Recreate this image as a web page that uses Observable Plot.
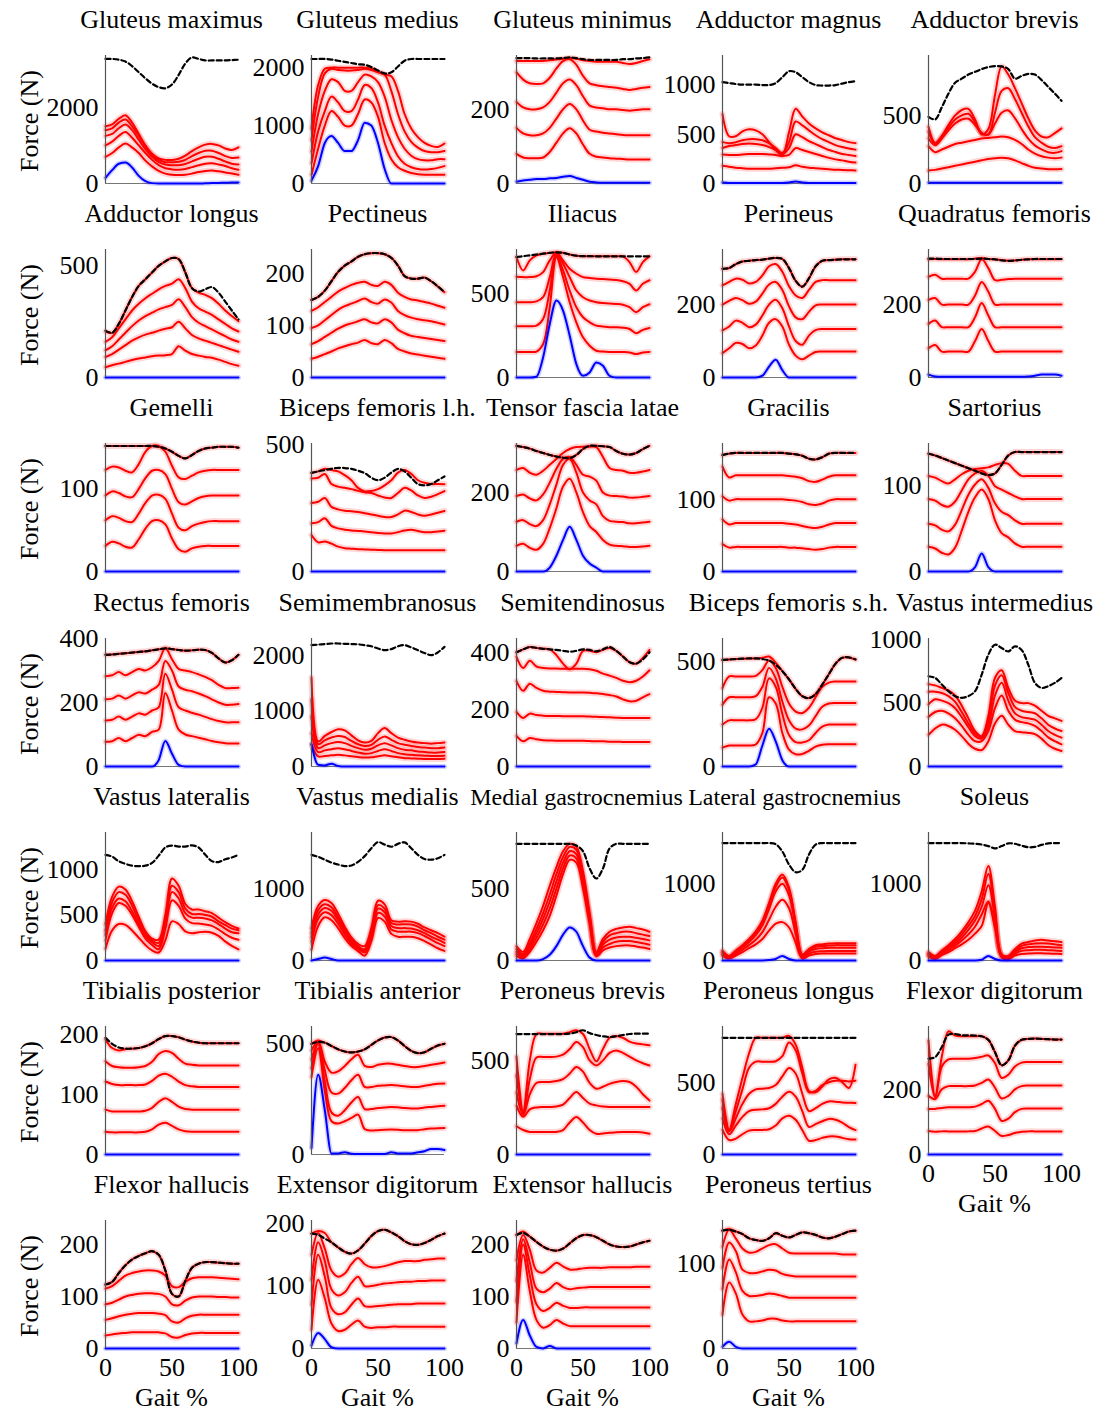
<!DOCTYPE html>
<html><head><meta charset="utf-8">
<script src="https://cdn.jsdelivr.net/npm/d3@7"></script>
<script src="https://cdn.jsdelivr.net/npm/@observablehq/plot@0.6"></script>
<style>
body{margin:0;background:#fff;}
#fig{position:relative;width:1099px;height:1414px;font-family:"Liberation Serif","Times New Roman",serif;color:#000;overflow:hidden;}
.t{position:absolute;white-space:nowrap;font-size:26px;line-height:30px;transform:translateX(-50%);}
.yl{position:absolute;white-space:nowrap;font-size:26px;line-height:30px;transform:translate(-50%,-50%) rotate(-90deg);}
#fig svg{position:absolute;overflow:visible;}
</style></head><body><div id="fig"></div>
<script>
// gait percentage sample points
const gait = [0,5,10,15,20,25,30,35,40,45,50,55,60,65,70,75,80,85,90,95,100];
const names = ["Gluteus maximus","Gluteus medius","Gluteus minimus","Adductor magnus","Adductor brevis",
"Adductor longus","Pectineus","Iliacus","Perineus","Quadratus femoris",
"Gemelli","Biceps femoris l.h.","Tensor fascia latae","Gracilis","Sartorius",
"Rectus femoris","Semimembranosus","Semitendinosus","Biceps femoris s.h.","Vastus intermedius",
"Vastus lateralis","Vastus medialis","Medial gastrocnemius","Lateral gastrocnemius","Soleus",
"Tibialis posterior","Tibialis anterior","Peroneus brevis","Peroneus longus","Flexor digitorum",
"Flexor hallucis","Extensor digitorum","Extensor hallucis","Peroneus tertius"];
const yTop = [3360,2210,345,1300,940, 573,246,765,351,351, 155,505,324,177,150, 400,2300,448,610,1010, 1404,1778,890,1667,1667, 214,578,680,885,393, 246,205,246,151];
const yTicks = [[0,2000],[0,1000,2000],[0,200],[0,500,1000],[0,500],
[0,500],[0,100,200],[0,500],[0,200],[0,200],
[0,100],[0,500],[0,200],[0,100],[0,100],
[0,200,400],[0,1000,2000],[0,200,400],[0,500],[0,500,1000],
[0,500,1000],[0,1000],[0,500],[0,1000],[0,1000],
[0,100,200],[0,500],[0,500],[0,500],[0,200],
[0,100,200],[0,100,200],[0,100,200],[0,100]];
const xTickLabels = [0,50,100];
const zero21 = [0,0,0,0,0,0,0,0,0,0,0,0,0,0,0,0,0,0,0,0,0];

// ---- Gluteus maximus
const GMAX_dash = [3270,3270,3250,3200,3080,2920,2760,2620,2530,2500,2600,2850,3150,3310,3270,3230,3230,3230,3230,3240,3250];
const GMAX_red = [
[700,800,950,1050,950,800,600,450,330,260,230,220,230,260,300,330,340,320,290,260,230],
[1000,1100,1250,1350,1200,1000,800,620,480,400,370,360,380,430,480,520,530,500,460,400,360],
[1250,1300,1450,1550,1400,1150,900,700,560,500,480,480,510,580,650,700,700,650,580,520,500],
[1400,1450,1600,1680,1500,1250,980,760,620,560,560,570,620,720,800,860,860,800,720,670,680],
[1500,1550,1700,1790,1600,1300,1000,780,660,620,620,650,730,850,950,1020,1040,1000,920,880,950]];
const GMAX_blue = [150,350,520,550,420,200,60,10,0,0,0,0,0,0,0,5,10,15,20,25,25];
// ---- Gluteus medius
const GMED_dash = [2150,2150,2150,2140,2120,2100,2080,2060,2050,2010,1950,1900,1920,2020,2120,2150,2150,2150,2150,2150,2150];
const GMED_red = [
[150,600,1000,1250,1150,1000,1000,1200,1450,1400,1150,700,420,280,220,180,160,150,150,150,150],
[350,900,1250,1500,1400,1250,1250,1450,1700,1650,1400,1000,700,470,340,280,250,240,250,270,300],
[550,1200,1600,1800,1750,1600,1600,1750,1880,1850,1750,1500,1100,800,600,480,420,400,400,420,420],
[750,1500,1900,1980,1960,1950,1950,1960,1980,1960,1920,1880,1600,1200,900,720,620,560,540,540,560],
[950,1700,1980,2000,2000,2000,2000,2000,2000,1980,1930,1880,1850,1600,1200,950,800,700,650,630,690]];
const GMED_blue = [50,300,700,820,700,560,560,750,1050,1000,700,250,0,0,0,0,0,0,0,0,0];
// ---- Gluteus minimus
const GMIN_dash = [338,338,338,337,337,337,337,338,340,338,335,333,333,333,333,333,335,335,337,338,340];
const GMIN_red = [
[80,70,68,68,70,85,110,135,149,135,105,80,72,70,68,67,66,65,65,65,65],
[150,135,130,130,135,150,175,200,214,200,170,145,140,137,135,133,131,130,130,130,130],
[220,205,200,200,205,220,245,270,280,265,235,210,205,203,200,200,198,196,198,200,200],
[300,280,270,268,270,285,310,330,335,320,290,270,265,262,260,258,255,252,255,258,260],
[330,330,330,330,330,332,334,336,338,336,332,330,328,328,328,328,325,322,325,330,335]];
const GMIN_blue = [5,8,10,12,12,14,15,18,20,15,10,5,3,2,2,2,2,2,2,2,2];
// ---- Adductor magnus
const AMAG_dash = [1030,1020,1010,1005,1005,1005,1000,1000,1020,1080,1140,1130,1080,1030,1000,995,995,1000,1015,1030,1040];
const AMAG_red = [
[180,170,160,155,150,150,150,150,155,160,165,185,170,160,155,150,145,140,138,135,131],
[295,290,290,295,300,300,300,295,290,280,290,360,340,320,300,280,260,245,235,222,213],
[360,380,390,400,405,400,390,370,340,300,360,500,470,430,400,370,340,320,300,290,279],
[420,410,420,440,450,450,440,410,360,310,420,630,590,540,490,450,420,390,370,355,344],
[705,480,480,530,550,540,500,420,340,290,520,760,680,610,560,520,490,460,440,420,410]];
const AMAG_blue = [10,5,5,5,5,5,5,5,5,5,10,20,10,5,5,5,5,5,5,5,5];
// ---- Adductor brevis
const ABRE_dash = [490,470,560,660,740,770,800,820,840,855,862,860,840,770,790,805,800,760,710,660,607];
const ABRE_red = [
[95,100,110,120,130,140,150,160,170,180,185,190,185,170,150,130,115,110,105,105,107],
[274,230,250,270,290,300,310,320,330,335,340,345,340,320,290,250,220,200,190,185,190],
[330,280,330,390,440,470,476,430,370,360,440,520,536,480,400,330,280,250,230,225,238],
[380,290,340,410,470,500,512,450,370,360,520,680,700,620,520,420,340,300,270,260,274],
[417,300,350,430,500,540,548,470,360,400,650,860,800,700,590,480,390,345,340,370,405]];
const ABRE_blue = [5,5,5,5,5,5,5,5,5,5,5,5,5,5,5,5,5,5,5,5,5];
// ---- Adductor longus
const ALON_dash = [210,200,240,300,360,410,440,470,500,520,535,530,470,400,385,395,405,380,340,300,260];
const ALON_red = [
[46,55,62,70,78,85,90,95,98,100,105,140,120,105,98,92,88,80,70,60,53],
[92,105,125,145,165,180,192,200,210,218,225,250,220,190,175,165,155,145,135,125,115],
[122,140,170,200,230,255,275,290,305,315,325,350,315,270,245,230,215,200,185,170,160],
[160,180,220,260,300,330,355,375,395,410,420,440,400,340,310,295,280,260,240,220,206],
[206,200,240,300,360,410,440,470,500,520,535,530,470,400,380,370,355,330,300,275,252]];
// ---- Pectineus
const PECT_dash = [149,155,167,185,203,215,223,232,237,239,239,237,230,215,195,190,190,192,185,175,164];
const PECT_red = [
[36,40,45,50,56,60,64,67,72,66,64,72,66,55,50,46,44,42,40,38,36],
[64,70,78,86,94,100,104,108,112,106,104,112,106,92,85,80,78,76,74,72,70],
[95,100,110,120,130,137,142,147,152,145,142,150,144,128,120,115,112,110,108,105,102],
[128,135,145,155,165,172,178,182,184,178,176,184,178,163,155,150,148,145,142,138,134],
[149,155,167,185,203,215,223,232,237,239,239,237,230,215,195,190,190,192,185,175,164]];
// ---- Iliacus
const ILIA_dash = [720,725,730,735,740,745,748,745,735,728,725,725,724,724,724,724,724,724,724,724,724];
const ILIA_red = [
[153,153,153,155,200,420,720,600,450,330,240,190,160,155,153,153,152,150,140,150,153],
[306,306,306,310,350,520,730,640,520,420,360,330,310,305,300,300,298,290,265,285,296],
[449,450,450,455,480,600,740,680,600,520,480,460,450,445,442,440,435,420,390,420,438],
[602,600,600,605,630,700,745,700,650,620,600,595,590,588,585,583,575,560,520,560,581],
[720,640,700,730,740,745,748,745,735,728,725,725,724,724,724,724,724,690,630,690,724]];
const ILIA_blue = [0,0,0,5,120,320,460,400,250,80,10,30,90,70,10,0,0,0,0,0,0];
// ---- Perineus
const PERI_dash = [298,300,311,318,320,322,323,326,328,325,300,265,249,272,305,320,322,323,324,324,324];
const PERI_red = [
[67,80,95,92,80,88,115,150,160,140,90,60,50,60,70,71,71,71,71,71,71],
[129,140,156,150,138,145,170,200,213,190,140,100,90,115,130,133,133,133,133,133,133],
[200,210,218,212,202,208,230,255,262,240,195,165,160,180,198,200,200,200,200,200,200],
[253,262,271,268,258,262,280,305,311,290,250,225,218,240,262,267,267,267,267,267,267],
[298,300,311,318,320,322,323,326,328,325,300,265,249,272,305,320,322,323,324,324,324]];
const PERI_blue = [0,0,0,0,0,0,5,30,49,20,0,0,0,0,0,0,0,0,0,0,0];
// ---- Quadratus femoris
const QFEM_dash = [326,326,325,325,325,325,325,325,326,325,324,321,320,321,323,324,325,325,325,325,325];
const QFEM_red = [
[80,89,71,71,71,71,71,100,133,100,71,71,71,71,71,71,71,71,71,71,71],
[147,156,138,138,138,138,138,165,204,170,138,138,138,138,138,138,138,138,138,138,138],
[213,218,200,200,200,200,200,225,262,235,200,200,200,200,200,200,200,200,200,200,200],
[276,282,271,271,271,271,271,290,324,300,267,268,270,271,271,271,271,271,271,271,271],
[324,325,324,324,324,324,324,326,328,325,324,322,320,321,323,324,324,324,324,324,324]];
const QFEM_blue = [8,3,2,2,2,2,2,2,2,2,2,2,2,2,2,3,5,8,8,8,5];
// ---- Gemelli
const GEME_dash = [152,152,152,152,152,152,152,152,151,149,145,140,137,141,146,149,150,151,151,151,150];
const GEME_red = [
[31,36,34,30,29,39,52,61,62,57,40,27,24,28,30,31,31,31,31,31,31],
[62,67,65,61,60,70,83,92,93,88,70,53,50,55,58,60,61,61,61,61,61],
[92,97,95,91,90,100,113,122,123,118,100,84,81,85,89,91,92,92,92,92,92],
[123,127,126,122,120,130,145,152,152,145,128,114,112,116,120,122,123,123,123,123,123],
[152,152,152,152,152,152,152,152,151,149,145,140,137,141,146,149,150,151,151,151,150]];
// ---- Biceps femoris l.h.
const BFLH_dash = [389,395,400,405,409,408,405,398,388,370,360,370,390,405,395,370,345,340,345,360,375];
const BFLH_red = [
[144,115,118,110,98,92,90,88,87,86,85,84,84,84,84,84,84,84,84,84,84],
[190,195,210,180,170,165,162,160,158,155,152,150,150,155,162,165,160,155,155,158,161],
[270,275,290,255,245,240,238,235,230,225,220,215,215,225,240,235,225,220,225,232,239],
[367,370,385,345,335,330,325,318,313,310,300,292,290,310,330,320,300,290,295,305,317],
[389,395,405,400,395,380,360,330,316,318,325,340,360,390,400,385,360,350,345,345,344]];
// ---- Tensor fascia latae
const TFL_dash = [318,315,311,305,300,295,291,288,287,295,310,318,318,317,315,305,298,296,300,310,318];
const TFL_red = [
[65,70,60,55,70,110,160,215,235,200,150,115,100,80,68,65,64,62,62,63,65],
[126,130,120,115,130,170,220,270,285,250,200,180,170,140,128,126,125,122,122,124,126],
[191,195,185,180,195,225,260,285,290,270,245,240,230,200,192,191,190,187,187,189,191],
[257,262,250,245,255,270,285,300,310,315,316,316,315,290,262,257,255,250,250,253,257],
[318,315,311,305,300,295,291,288,287,295,310,318,318,317,315,305,298,296,300,310,318]];
const TFL_blue = [0,0,0,0,0,10,40,80,113,80,40,20,10,0,0,0,0,0,0,0,0];
// ---- Gracilis
const GRAC_dash = [161,163,164,164,164,164,164,164,164,164,163,162,160,156,155,158,163,164,164,164,164];
const GRAC_red = [
[38,33,34,34,34,34,34,34,34,34,33,33,32,31,30,31,33,34,34,34,34],
[72,65,67,67,67,67,67,67,67,67,66,65,63,61,60,62,65,67,67,67,67],
[104,98,100,100,100,100,100,100,100,100,99,98,96,93,92,94,98,100,100,100,100],
[145,130,133,133,133,133,133,133,133,133,132,131,129,125,124,127,131,133,133,133,133],
[161,163,164,164,164,164,164,164,164,164,163,162,160,156,155,158,163,164,164,164,164]];
// ---- Sartorius
const SART_dash = [138,136,133,130,127,124,121,118,115,113,115,125,136,140,140,140,140,140,140,140,140];
const SART_red = [
[29,27,22,20,28,48,70,87,96,85,60,45,40,33,29,29,29,29,29,29,29],
[56,54,49,47,55,72,90,102,108,98,80,70,66,60,56,56,56,56,56,56,56],
[85,83,78,76,82,95,108,115,118,112,100,96,92,88,85,85,85,85,85,85,85],
[112,110,106,103,108,114,118,120,121,122,125,127,126,118,112,112,112,112,112,112,112],
[138,136,133,130,127,124,121,118,115,113,115,125,136,140,140,140,140,140,140,140,140]];
const SART_blue = [0,0,0,0,0,0,0,5,21,5,0,0,0,0,0,0,0,0,0,0,0];
// ---- Rectus femoris
const RFEM_dash = [349,350,352,354,356,358,360,363,366,369,367,364,362,363,365,364,355,338,325,332,349];
const RFEM_red = [
[77,79,89,79,89,99,95,108,115,230,175,115,100,95,90,85,80,76,73,72,72],
[144,146,156,146,156,166,162,175,185,290,240,185,175,168,162,155,148,142,138,138,138],
[210,212,222,212,222,232,228,240,255,330,300,250,240,235,228,220,210,200,193,193,195],
[282,285,295,285,295,305,300,310,330,370,335,305,300,295,288,280,270,255,245,245,246],
[349,350,352,354,356,358,360,363,366,369,367,364,362,363,365,364,355,338,325,332,349]];
const RFEM_blue = [0,0,0,0,0,0,0,0,20,80,40,5,0,0,0,0,0,0,0,0,0];
// ---- Semimembranosus
const SMEM_dash = [2180,2190,2200,2210,2210,2205,2200,2195,2180,2160,2120,2090,2110,2160,2180,2140,2090,2040,2000,2050,2150];
const SMEM_red = [
[400,180,190,200,210,200,185,170,160,165,185,200,185,165,150,145,140,135,135,135,140],
[600,260,290,310,330,310,280,250,230,240,280,310,280,240,220,210,200,195,190,190,195],
[900,330,380,420,440,420,370,330,300,320,380,420,380,330,300,290,270,260,250,250,260],
[1200,400,470,520,550,530,460,400,370,390,480,540,480,420,390,370,350,340,330,330,340],
[1600,450,550,620,670,650,560,470,430,460,600,690,600,520,480,450,430,420,410,420,430]];
const SMEM_blue = [400,30,20,50,10,0,0,0,0,0,0,0,0,0,0,0,0,0,0,0,0];
// ---- Semitendinosus
const STEN_dash = [400,410,418,415,412,410,408,405,402,405,410,408,403,410,418,405,385,365,360,375,400];
const STEN_red = [
[107,88,100,95,92,91,90,90,90,90,90,89,88,88,87,87,86,86,86,86,86],
[191,170,185,180,178,177,177,176,176,176,176,175,174,173,172,171,170,170,170,170,170],
[299,265,290,275,265,262,261,260,259,259,259,258,256,254,250,245,235,228,230,242,253],
[384,345,370,350,345,343,343,342,342,342,342,340,335,325,318,310,300,295,300,315,337],
[400,410,418,415,412,410,390,360,340,360,405,405,400,408,415,405,385,365,360,380,408]];
// ---- Biceps femoris s.h.
const BFSH_dash = [508,510,512,514,515,515,512,505,485,455,415,370,335,326,345,390,440,490,518,520,510];
const BFSH_red = [
[90,100,100,100,100,105,160,330,300,160,80,58,60,75,95,104,106,106,106,106,106],
[200,220,220,220,220,225,280,420,380,250,150,116,114,125,160,190,200,200,200,200,200],
[295,330,330,330,330,335,380,470,420,310,220,180,177,195,240,285,300,303,303,303,303],
[374,429,429,429,429,432,460,505,470,380,300,262,255,280,330,380,400,405,405,405,405],
[508,510,512,514,515,515,518,524,495,455,415,370,335,326,345,390,440,490,518,520,510]];
const BFSH_blue = [0,0,0,0,0,10,100,180,120,30,0,0,0,0,0,0,0,0,0,0,0];
// ---- Vastus intermedius
const VINT_dash = [712,699,647,594,555,542,555,594,725,882,961,935,908,948,920,804,660,620,634,660,699];
const VINT_red = [
[250,300,330,320,290,240,180,140,130,200,340,400,330,280,270,265,255,220,170,140,123],
[390,430,440,420,380,320,250,200,200,280,460,560,440,370,350,340,320,280,230,200,175],
[490,530,520,500,460,390,310,240,220,320,560,660,520,420,390,380,370,330,280,250,228],
[590,590,580,555,510,430,340,260,230,360,640,720,580,470,440,430,420,380,330,300,280],
[650,640,620,600,560,480,380,280,240,400,700,760,620,520,500,500,480,440,400,380,360]];
// ---- Vastus lateralis
const VLAT_dash = [1158,1140,1088,1060,1040,1035,1040,1070,1150,1240,1260,1250,1250,1262,1240,1160,1090,1080,1110,1130,1158];
const VLAT_red = [
[130,330,400,390,330,250,170,110,88,220,430,400,320,300,310,315,305,270,210,160,123],
[220,520,630,600,500,370,240,170,123,350,660,600,460,410,405,395,380,340,290,250,228],
[280,580,680,650,540,400,270,200,158,400,750,680,520,470,470,460,440,400,350,310,298],
[330,640,750,720,600,440,300,220,193,450,820,750,570,510,510,500,480,430,390,350,333],
[400,700,810,780,650,480,320,240,228,500,900,820,620,560,560,540,520,470,420,380,351]];
// ---- Vastus medialis
const VMED_dash = [1467,1440,1400,1360,1333,1311,1320,1370,1450,1560,1644,1610,1580,1620,1640,1560,1467,1410,1400,1420,1467];
const VMED_red = [
[150,480,600,560,450,310,200,130,67,270,590,540,370,330,330,330,310,270,220,170,133],
[260,580,670,630,510,360,230,160,111,320,660,610,430,400,400,400,380,340,290,240,200],
[320,640,730,690,560,400,260,180,133,360,720,670,480,450,450,445,420,380,330,290,244],
[380,700,780,740,600,430,290,200,156,400,770,720,520,500,505,500,470,420,380,330,289],
[450,760,840,800,650,470,320,230,200,450,830,780,560,540,545,540,510,460,420,380,333]];
const VMED_blue = [0,20,40,20,0,0,0,0,0,0,0,0,0,0,0,0,0,0,0,0,0];
// ---- Medial gastrocnemius
const MGAS_dash = [811,811,811,811,811,811,811,811,811,800,760,640,570,640,780,811,811,811,811,811,811];
const MGAS_red = [
[30,15,60,130,210,310,450,600,700,680,500,250,30,70,90,100,105,105,98,90,80],
[45,25,80,160,250,360,500,640,730,710,530,270,35,90,115,130,135,135,128,120,110],
[60,35,100,190,290,410,550,680,760,740,560,290,40,110,145,160,165,165,158,150,140],
[80,45,120,220,330,460,600,720,790,770,590,310,50,130,175,190,200,200,190,180,170],
[100,60,150,260,380,520,650,760,811,790,620,330,60,150,200,220,230,235,225,215,200]];
const MGAS_blue = [0,0,0,0,10,40,100,180,230,200,100,20,0,0,0,0,0,0,0,0,0];
// ---- Lateral gastrocnemius
const LGAS_dash = [1529,1529,1529,1529,1529,1529,1529,1529,1515,1420,1250,1150,1180,1380,1510,1529,1529,1529,1529,1529,1529];
const LGAS_red = [
[60,25,65,110,160,210,280,390,480,500,430,230,25,65,85,90,90,90,90,90,90],
[80,35,85,140,200,270,370,530,700,790,680,350,40,90,115,120,125,125,125,125,125],
[100,45,105,170,240,330,460,670,900,1000,850,440,55,115,150,160,165,165,165,165,165],
[115,55,120,190,265,360,500,720,960,1080,920,480,70,135,180,190,195,200,200,200,200],
[130,60,130,200,280,380,520,750,1000,1120,950,500,80,150,200,210,220,225,225,225,225]];
const LGAS_blue = [0,0,0,0,0,0,0,5,20,60,20,0,0,0,0,0,0,0,0,0,0];
// ---- Soleus
const SOLE_dash = [1529,1529,1529,1529,1529,1529,1525,1520,1510,1490,1460,1490,1525,1520,1495,1475,1480,1505,1525,1529,1529];
const SOLE_red = [
[50,20,70,110,160,210,270,350,450,750,420,40,20,65,85,90,95,95,90,88,85],
[65,30,85,135,190,260,340,440,600,770,450,50,30,90,125,135,140,140,135,130,125],
[80,40,100,160,220,300,400,520,700,980,550,60,40,110,160,175,180,180,175,170,165],
[95,50,115,180,250,340,450,580,800,1125,630,70,50,130,190,210,220,225,220,210,200],
[110,60,130,200,280,380,500,650,900,1230,700,80,60,150,220,240,260,270,260,250,240]];
const SOLE_blue = [0,0,0,0,0,0,0,0,10,60,20,0,0,0,0,0,0,0,0,0,0];
// ---- Tibialis posterior
const TPOS_dash = [195,185,179,177,177,178,181,186,193,198,198,196,192,189,187,186,186,186,186,186,186];
const TPOS_red = [
[38,37,37,37,37,37,38,42,50,53,48,42,39,38,38,38,38,38,38,38,38],
[75,72,72,72,72,72,73,78,88,94,88,80,76,75,75,75,75,75,75,75,75],
[122,118,116,116,116,116,117,123,132,135,130,122,116,114,113,113,113,113,113,113,113],
[156,148,146,145,145,146,148,155,168,173,170,160,152,150,149,149,149,149,149,149,149],
[192,178,174,176,177,178,181,186,193,198,198,196,192,189,187,186,186,186,186,186,186]];
// ---- Tibialis anterior
const TANT_dash = [500,508,505,490,475,465,461,465,475,495,515,528,530,515,490,468,458,462,478,492,500];
const TANT_red = [
[350,480,290,150,140,150,165,180,115,108,110,112,113,112,110,110,110,114,117,119,120],
[390,500,330,190,175,200,235,260,205,205,210,212,215,213,210,208,208,212,215,218,220],
[430,505,380,280,275,300,335,360,305,305,310,312,314,312,308,305,305,310,315,320,321],
[470,510,420,370,375,400,430,450,400,395,405,410,410,405,400,395,395,400,405,410,415],
[500,515,505,490,475,465,461,465,475,495,515,528,530,515,490,468,458,462,478,492,500]];
const TANT_blue = [30,360,200,5,5,10,3,2,2,2,2,2,10,5,5,5,10,15,25,25,20];
// ---- Peroneus brevis
const PBRE_dash = [640,640,640,640,640,640,640,640,642,650,660,645,635,628,624,628,635,640,642,642,642];
const PBRE_red = [
[150,130,120,119,119,119,120,130,170,199,170,130,110,112,115,118,119,119,119,117,110],
[260,200,240,250,252,252,255,265,300,332,300,270,261,255,252,252,252,252,252,252,252],
[330,210,320,380,385,385,390,400,430,465,440,380,349,360,375,385,390,385,360,320,287],
[420,220,400,515,518,518,520,530,560,598,570,500,473,500,540,553,540,520,500,485,473],
[520,230,500,640,642,642,642,642,650,660,640,560,495,560,620,630,620,600,590,585,580]];
// ---- Peroneus longus
const PLON_dash = [807,807,807,807,807,807,807,807,807,807,807,807,807,807,807,807,807,807,807,807,807];
const PLON_red = [
[170,100,110,140,165,169,170,175,200,250,268,240,170,95,100,115,125,125,115,105,103],
[250,140,200,260,300,310,312,320,350,400,433,400,300,190,210,230,246,240,220,190,169],
[320,160,250,350,420,450,455,460,480,540,598,560,420,300,320,350,367,365,360,358,356],
[380,165,300,450,600,642,642,642,645,680,774,720,560,430,440,480,500,510,510,505,510],
[420,170,350,530,700,807,807,807,807,807,820,760,600,440,430,470,520,530,500,460,620]];
// ---- Flexor digitorum
const FDIG_dash = [294,299,330,368,370,366,366,365,363,352,314,274,289,334,352,355,356,355,354,353,353];
const FDIG_red = [
[72,70,71,71,71,71,71,72,80,86,72,57,60,66,70,71,71,71,71,71,71],
[140,140,143,145,145,145,145,147,155,165,140,103,110,130,140,141,141,141,141,141,141],
[180,170,200,210,210,210,210,212,220,230,205,172,180,200,210,212,212,212,212,212,212],
[279,175,270,292,294,294,294,296,300,304,280,235,245,270,282,284,284,284,284,284,284],
[350,180,300,378,365,363,363,363,363,352,314,274,289,334,352,355,356,355,354,353,353]];
// ---- Flexor hallucis
const FHAL_dash = [123,128,145,160,171,178,183,187,180,150,105,100,130,155,163,166,166,165,164,163,163];
const FHAL_red = [
[25,27,29,30,31,31,31,31,31,29,22,21,26,29,30,30,30,30,30,30,30],
[55,58,62,65,67,68,68,68,67,64,52,50,58,63,65,65,65,65,65,65,65],
[85,88,94,100,103,105,106,106,105,100,85,83,92,98,100,100,100,99,99,98,98],
[115,120,130,140,145,148,150,150,148,140,120,118,128,135,137,137,137,136,135,134,133],
[123,128,145,160,171,178,183,187,180,150,105,100,130,155,163,166,166,165,164,163,163]];
// ---- Extensor digitorum
const EDIG_dash = [184,182,176,170,162,155,152,157,168,180,188,190,186,180,172,167,166,169,174,180,184];
const EDIG_red = [
[30,110,80,40,28,30,38,45,35,33,34,34,35,35,35,35,35,35,35,35,35],
[70,150,115,65,55,58,70,80,68,67,68,69,70,71,71,71,72,72,72,72,72],
[110,170,140,95,85,90,105,115,100,100,102,104,105,106,107,107,108,108,109,109,109],
[150,185,160,125,115,120,135,145,135,130,130,132,135,138,140,140,140,142,143,144,144],
[184,188,185,170,162,155,152,157,168,180,188,190,186,180,172,167,166,169,174,180,184]];
const EDIG_blue = [5,25,15,2,0,0,0,0,0,0,0,0,0,0,0,0,0,0,0,0,0];
// ---- Extensor hallucis
const EHAL_dash = [218,222,215,205,196,190,188,192,202,212,218,218,214,207,200,196,195,196,200,204,207];
const EHAL_red = [
[50,180,110,55,40,45,55,48,43,43,43,43,43,43,43,43,43,43,43,43,43],
[90,200,140,85,72,78,88,82,78,78,79,79,79,79,79,79,79,79,79,79,79],
[130,210,165,115,108,115,126,118,114,116,117,118,118,118,118,118,118,118,118,118,118],
[170,218,190,150,146,155,165,158,152,152,154,155,155,155,156,156,156,156,157,157,157],
[218,225,215,205,196,190,188,192,202,212,218,218,214,207,200,196,195,196,200,204,207]];
const EHAL_blue = [10,55,25,3,0,5,0,0,0,0,0,0,0,0,0,0,0,0,0,0,0];
// ---- Peroneus tertius
const PTER_dash = [139,140,138,135,130,128,127,130,136,133,131,134,137,136,134,131,130,132,135,138,139];
const PTER_red = [
[40,78,65,40,32,32,33,35,35,33,32,32,32,32,32,32,32,32,32,32,32],
[70,105,90,68,62,62,63,65,64,62,60,60,60,60,60,60,60,60,60,60,60],
[95,125,115,93,89,89,91,93,92,88,86,85,85,85,85,85,85,85,85,85,85],
[120,140,130,118,113,114,118,122,123,118,113,112,112,112,112,112,112,112,111,111,111],
[139,141,138,135,130,128,127,130,136,133,131,134,137,136,134,131,130,132,135,138,139]];
const PTER_blue = [2,8,2,0,0,0,0,0,0,0,0,0,0,0,0,0,0,0,0,0,0];

const dashList = [GMAX_dash,GMED_dash,GMIN_dash,AMAG_dash,ABRE_dash,ALON_dash,PECT_dash,ILIA_dash,PERI_dash,QFEM_dash,
GEME_dash,BFLH_dash,TFL_dash,GRAC_dash,SART_dash,RFEM_dash,SMEM_dash,STEN_dash,BFSH_dash,VINT_dash,
VLAT_dash,VMED_dash,MGAS_dash,LGAS_dash,SOLE_dash,TPOS_dash,TANT_dash,PBRE_dash,PLON_dash,FDIG_dash,
FHAL_dash,EDIG_dash,EHAL_dash,PTER_dash];
const redList = [GMAX_red,GMED_red,GMIN_red,AMAG_red,ABRE_red,ALON_red,PECT_red,ILIA_red,PERI_red,QFEM_red,
GEME_red,BFLH_red,TFL_red,GRAC_red,SART_red,RFEM_red,SMEM_red,STEN_red,BFSH_red,VINT_red,
VLAT_red,VMED_red,MGAS_red,LGAS_red,SOLE_red,TPOS_red,TANT_red,PBRE_red,PLON_red,FDIG_red,
FHAL_red,EDIG_red,EHAL_red,PTER_red];
const blueList = [GMAX_blue,GMED_blue,GMIN_blue,AMAG_blue,ABRE_blue,zero21,zero21,ILIA_blue,PERI_blue,QFEM_blue,
zero21,zero21,TFL_blue,zero21,SART_blue,RFEM_blue,SMEM_blue,zero21,BFSH_blue,zero21,
zero21,VMED_blue,MGAS_blue,LGAS_blue,SOLE_blue,zero21,TANT_blue,zero21,zero21,zero21,
zero21,EDIG_blue,EHAL_blue,PTER_blue];
const xAxisPanels = [29,30,31,32,33];
// the two long neighbouring titles are set slightly smaller and nudged apart so they do not collide
const titleTweaks = {22: {size: 24, dx: -6}, 23: {size: 24, dx: 6}};

// ---- layout
const fig = document.getElementById("fig");
const colX = [105,311,516,722,928];
const rowZ = [183,377,571,766,960,1154,1348];
const W = 133, H = 128;
const mL = 90, mR = 20, mT = 10, mB = 45;
const toRows = arr => arr.slice(0, gait.length).map((v, j) => ({g: gait[j], v}));

names.forEach((name, i) => {
  const r = Math.floor(i / 5), c = i % 5;
  const x0 = colX[c], z = rowZ[r];
  const redData = redList[i].flatMap((arr, k) => toRows(arr).map(d => ({...d, k})));
  const blueData = toRows(blueList[i]);
  const showX = xAxisPanels.includes(i);
  const svg = Plot.plot({
    width: mL + W + mR, height: mT + H + mB,
    marginLeft: mL, marginRight: mR, marginTop: mT, marginBottom: mB,
    x: {domain: [0, 100], axis: showX ? "bottom" : null, ticks: xTickLabels, tickSize: 0, tickPadding: 9, label: null, tickFormat: d3.format("d")},
    y: {domain: [0, yTop[i]], ticks: yTicks[i], tickSize: 0, tickPadding: 7, label: null, tickFormat: d3.format("d")},
    style: {fontFamily: '"Liberation Serif","Times New Roman",serif', fontSize: "26px", background: "transparent", overflow: "visible", color: "#000"},
    marks: [
      Plot.ruleY([0], {stroke: "#777", strokeWidth: 1}),
      Plot.line(redData, {x: "g", y: "v", z: "k", stroke: "#ff0000", strokeWidth: 6, strokeOpacity: 0.16, curve: "catmull-rom"}),
      Plot.line(redData, {x: "g", y: "v", z: "k", stroke: "#ff0000", strokeWidth: 2, curve: "catmull-rom"}),
      Plot.line(blueData, {x: "g", y: "v", stroke: "#0000ff", strokeWidth: 5, strokeOpacity: 0.18, curve: "monotone-x"}),
      Plot.line(blueData, {x: "g", y: "v", stroke: "#0000ff", strokeWidth: 2, curve: "monotone-x"}),
      Plot.line(toRows(dashList[i]), {x: "g", y: "v", stroke: "#000", strokeWidth: 2.2, strokeDasharray: "5,3", curve: "catmull-rom"}),
      Plot.ruleX([0], {stroke: "#555", strokeWidth: 1.2})
    ]
  });
  svg.style.left = (x0 - mL) + "px";
  svg.style.top = (z - H - mT) + "px";
  fig.appendChild(svg);

  const tw = titleTweaks[i] || {size: 26, dx: 0};
  const t = document.createElement("div");
  t.className = "t";
  t.textContent = name;
  t.style.fontSize = tw.size + "px";
  t.style.left = (x0 + W / 2 + tw.dx) + "px";
  t.style.top = (z - 178) + "px";
  fig.appendChild(t);

  if (c === 0) {
    const yl = document.createElement("div");
    yl.className = "yl";
    yl.textContent = "Force (N)";
    yl.style.left = "30px";
    yl.style.top = (z - 62) + "px";
    fig.appendChild(yl);
  }
  if (showX) {
    const xl = document.createElement("div");
    xl.className = "t";
    xl.textContent = "Gait %";
    xl.style.left = (x0 + W / 2) + "px";
    xl.style.top = (z + 35) + "px";
    fig.appendChild(xl);
  }
});
</script>
</body></html>
